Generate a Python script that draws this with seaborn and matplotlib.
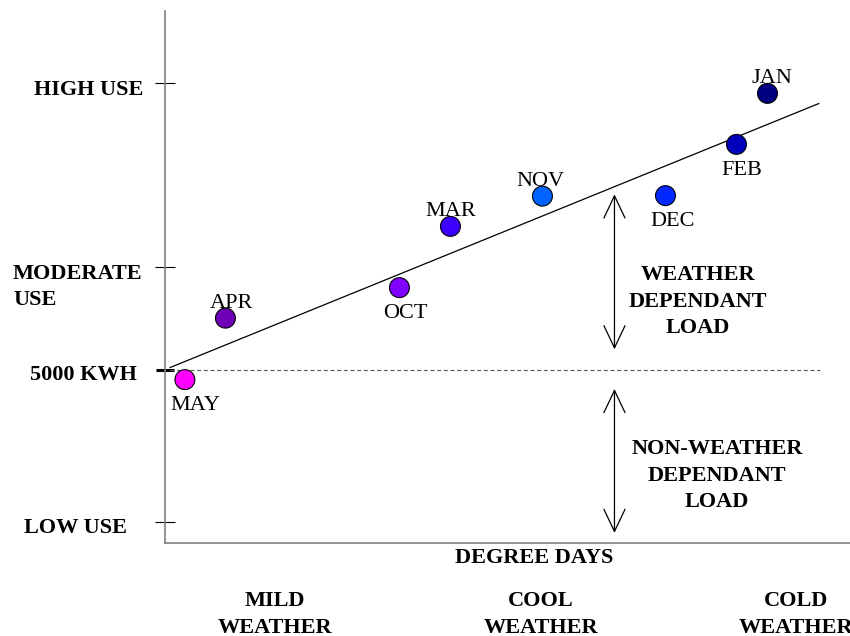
"""
Weather-dependent vs base electricity load, plotted against degree days.
"""

import matplotlib.pyplot as plt
import pandas as pd
import seaborn as sns


# Monthly usage points (degree days vs kWh)
MONTHS = ["MAY", "APR", "OCT", "MAR", "NOV", "DEC", "FEB", "JAN"]
DEGREE_DAYS = [40, 121, 469, 571, 755, 1001, 1143, 1205]
USAGE_KWH = [4800, 6030, 6640, 7865, 8470, 8480, 9505, 10525]
MONTH_COLORS = ["#FF00FF", "#7000B8", "#8000FF", "#3C00FF",
                "#0062FF", "#0028FF", "#0000BC", "#000080"]

# Fitted line: base load + slope * degree days
BASE_LOAD = 5000
SLOPE = 4.07
FIT_RANGE = [10, 1308]

# Y-axis reference levels
LEVEL_VALUES = [1950, 7045, 10725]
LEVEL_LABELS = ["LOW USE", "MODERATE\nUSE", "HIGH USE"]

# Arrows splitting the load at one degree-day value
ARROW_DD = 899
WEATHER_SPAN = [5406, 8506]
NON_WEATHER_SPAN = [1734, 4614]

WEATHER_BANDS = ["MILD\nWEATHER", "COOL\nWEATHER", "COLD\nWEATHER"]


sns.set_theme(style="white")
plt.rcParams["font.family"] = ["Liberation Serif", "DejaVu Serif"]
plt.rcParams["text.color"] = "black"

LS = 1.42  # line spacing for the stacked labels

df = pd.DataFrame({"month": MONTHS, "dd": DEGREE_DAYS, "kwh": USAGE_KWH})

fig = plt.figure(figsize=(8.5, 6.36), dpi=100)
ax = fig.add_axes([0.194, 0.146, 0.806, 0.8365])
ax.set_xlim(0, 1370)
ax.set_ylim(1530, 12170)

# baseline and fitted line
ax.hlines(BASE_LOAD, FIT_RANGE[0], FIT_RANGE[1] + 2, colors="#555555",
          linewidth=0.8, linestyles=(0, (3.6, 2.4)), zorder=1)
ax.plot(FIT_RANGE, [BASE_LOAD + SLOPE * x for x in FIT_RANGE],
        color="black", linewidth=0.9, zorder=2)

sns.scatterplot(data=df, x="dd", y="kwh", hue="month", palette=MONTH_COLORS,
                s=205, edgecolor="black", linewidth=0.8, legend=False,
                zorder=3, ax=ax)

# month labels: (x offset px, above?)
placement = {"MAY": (10, False), "APR": (6, True), "OCT": (6, False),
             "MAR": (0, True), "NOV": (-2, True), "DEC": (7, False),
             "FEB": (5, False), "JAN": (4, True)}
for m, x, y in zip(MONTHS, DEGREE_DAYS, USAGE_KWH):
    dx, above = placement[m]
    ax.annotate(m, (x, y), xytext=(dx * 0.72, 7.2 if above else -21.8),
                textcoords="offset points", ha="center", va="baseline",
                fontsize=16)

# axes styling
for side in ["top", "right"]:
    ax.spines[side].set_visible(False)
for side in ["left", "bottom"]:
    ax.spines[side].set_color("#808080")
    ax.spines[side].set_linewidth(1.2)
ax.set_xticks([])
ax.set_yticks(LEVEL_VALUES)
ax.set_yticks([BASE_LOAD], minor=True)
ax.tick_params(axis="y", which="major", direction="inout", length=15,
               width=0.8, color="black", labelleft=False, left=True)
ax.tick_params(axis="y", which="minor", direction="inout", length=12.5,
               width=2.2, color="black", labelleft=False, left=True)
ax.set_xlabel("")
ax.set_ylabel("")

# y level labels (va="baseline" follows the last line)
label_offsets = {"LOW USE": (-27.4, -7.9, "right"),
                 "MODERATE\nUSE": (-109.4, -27.4, "left"),
                 "HIGH USE": (-15.8, -8.6, "right")}
for val, lab in zip(LEVEL_VALUES, LEVEL_LABELS):
    ox, oy, ha = label_offsets[lab]
    ax.annotate(lab, (0, val), xycoords=ax.get_yaxis_transform(),
                xytext=(ox, oy), textcoords="offset points", ha=ha,
                va="baseline", fontsize=16, fontweight="bold",
                multialignment="left", linespacing=LS,
                annotation_clip=False)
ax.annotate("5000 KWH", (0, BASE_LOAD), xycoords=ax.get_yaxis_transform(),
            xytext=(-20.2, -7.7), textcoords="offset points", ha="right",
            va="baseline", fontsize=16, fontweight="bold",
            annotation_clip=False)

# load arrows and their labels
arrow_kw = dict(arrowstyle="<->,head_length=0.8,head_width=0.38",
                color="black", linewidth=0.9, shrinkA=0, shrinkB=0)
ax.annotate("", xy=(ARROW_DD, WEATHER_SPAN[1]),
            xytext=(ARROW_DD, WEATHER_SPAN[0]),
            arrowprops=dict(mutation_scale=20, **arrow_kw))
ax.annotate("", xy=(ARROW_DD, NON_WEATHER_SPAN[1]),
            xytext=(ARROW_DD, NON_WEATHER_SPAN[0]),
            arrowprops=dict(mutation_scale=20, **arrow_kw))
ax.text(1066, 5736, "WEATHER\nDEPENDANT\nLOAD", ha="center", va="baseline",
        multialignment="center", fontsize=16, fontweight="bold",
        linespacing=LS)
ax.text(1104, 2256, "NON-WEATHER\nDEPENDANT\nLOAD", ha="center",
        va="baseline", multialignment="center", fontsize=16,
        fontweight="bold", linespacing=LS)

# x-axis title and weather bands
fig.text(0.628, 0.1148, "DEGREE DAYS", ha="center", va="baseline",
         fontsize=16, fontweight="bold")
for xf, band in zip([0.3235, 0.6365, 0.9365], WEATHER_BANDS):
    fig.text(xf, 0.0055, band, ha="center", va="baseline",
             multialignment="center", fontsize=16, fontweight="bold",
             linespacing=LS)

fig.savefig("out.png", dpi=100)
plt.close(fig)
